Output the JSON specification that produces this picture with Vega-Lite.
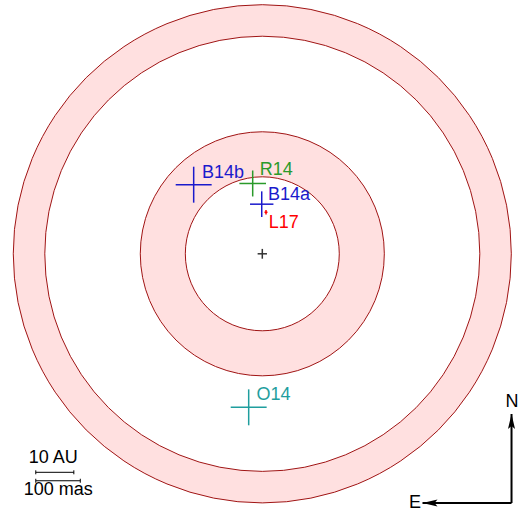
{
  "$schema": "https://vega.github.io/schema/vega-lite/v6.json",
  "description": "HD 169142 disk rings with candidate companion positions (offsets in mas).",
  "width": 521,
  "height": 512,
  "padding": 0,
  "autosize": {"type": "fit", "contains": "padding"},
  "config": {"view": {"stroke": null}},
  "datasets": {
    "rings": [
      {"ra": 0, "dec": 0, "r": 559.6, "zone": "ring"},
      {"ra": 0, "dec": 0, "r": 488.8, "zone": "gap"},
      {"ra": 0, "dec": 0, "r": 274.2, "zone": "ring"},
      {"ra": 0, "dec": 0, "r": 173.0, "zone": "gap"}
    ],
    "detections": [
      {"ref": "B14b", "ra": 154.2, "dec": 155.3, "ra_lo": 113.8, "ra_hi": 194.6, "dec_lo": 114.9, "dec_hi": 195.7},
      {"ref": "R14", "ra": 21.6, "dec": 158.0, "ra_lo": -8.3, "ra_hi": 51.5, "dec_lo": 128.8, "dec_hi": 187.2},
      {"ref": "B14a", "ra": 1.3, "dec": 111.5, "ra_lo": -25.0, "ra_hi": 27.6, "dec_lo": 82.7, "dec_hi": 140.3},
      {"ref": "L17", "ra": -8.3, "dec": 93.3, "ra_lo": -11.7, "ra_hi": -4.9, "dec_lo": 88.3, "dec_hi": 98.3},
      {"ref": "O14", "ra": 30.6, "dec": -345.0, "ra_lo": -9.8, "ra_hi": 71.0, "dec_lo": -385.4, "dec_hi": -304.6},
      {"ref": "star", "ra": 0, "dec": 0, "ra_lo": -10.5, "ra_hi": 10.5, "dec_lo": -11, "dec_hi": 11}
    ],
    "labels": [
      {"ref": "B14b", "ra": 135.5, "dec": 171.0},
      {"ref": "R14", "ra": 5.6, "dec": 177.1},
      {"ref": "B14a", "ra": -13.0, "dec": 120.9},
      {"ref": "L17", "ra": -14.4, "dec": 58.7},
      {"ref": "O14", "ra": 13.3, "dec": -328.5}
    ],
    "compass": [
      {"dir": "N", "ra0": -560, "dec0": -560, "ra1": -560, "dec1": -360},
      {"dir": "E", "ra0": -560, "dec0": -560, "ra1": -360, "dec1": -560}
    ],
    "scalebar": [
      {"name": "10 AU", "ra0": 509, "ra1": 423.5, "dec": -491},
      {"name": "100 mas", "ra0": 509, "ra1": 409, "dec": -510}
    ],
    "notes": [
      {"text": "10 AU", "ra": 469.7, "dec": -469.4},
      {"text": "100 mas", "ra": 458.4, "dec": -542.0},
      {"text": "N", "ra": -561.3, "dec": -343.6},
      {"text": "E", "ra": -343.1, "dec": -570.6}
    ]
  },
  "layer": [
    {
      "data": {"name": "rings"},
      "mark": {"type": "point", "shape": "circle", "filled": true, "opacity": 1, "stroke": "#a01414", "strokeWidth": 1},
      "encoding": {
        "x": {"field": "ra", "type": "quantitative", "axis": null, "scale": {"domain": [-581.3, 589.4], "reverse": true, "nice": false, "zero": false}},
        "y": {"field": "dec", "type": "quantitative", "axis": null, "scale": {"domain": [-580.2, 570.3], "nice": false, "zero": false}},
        "size": {"field": "r", "type": "quantitative", "legend": null, "scale": {"type": "pow", "exponent": 2, "domain": [0, 600], "range": [0, 285156]}},
        "fill": {"field": "zone", "type": "nominal", "legend": null, "scale": {"domain": ["ring", "gap"], "range": ["#ffe0e0", "#ffffff"]}}
      }
    },
    {
      "data": {"name": "detections"},
      "mark": {"type": "rule", "strokeWidth": 1.5},
      "encoding": {
        "x": {"field": "ra_lo", "type": "quantitative", "axis": null},
        "x2": {"field": "ra_hi"},
        "y": {"field": "dec", "type": "quantitative", "axis": null},
        "color": {"field": "ref", "type": "nominal", "legend": null, "scale": {"domain": ["B14a", "B14b", "R14", "L17", "O14", "star"], "range": ["#1a1acc", "#1a1acc", "#2a9a2a", "#ff0000", "#1f9e9e", "#333333"]}}
      }
    },
    {
      "data": {"name": "detections"},
      "mark": {"type": "rule", "strokeWidth": 1.5},
      "encoding": {
        "x": {"field": "ra", "type": "quantitative", "axis": null},
        "y": {"field": "dec_lo", "type": "quantitative", "axis": null},
        "y2": {"field": "dec_hi"},
        "color": {"field": "ref", "type": "nominal", "legend": null}
      }
    },
    {
      "data": {"name": "labels"},
      "mark": {"type": "text", "align": "left", "baseline": "alphabetic", "font": "Liberation Sans", "fontSize": 18},
      "encoding": {
        "x": {"field": "ra", "type": "quantitative", "axis": null},
        "y": {"field": "dec", "type": "quantitative", "axis": null},
        "text": {"field": "ref"},
        "color": {"field": "ref", "type": "nominal", "legend": null}
      }
    },
    {
      "data": {"name": "compass"},
      "mark": {"type": "rule", "color": "black", "strokeWidth": 2},
      "encoding": {
        "x": {"field": "ra0", "type": "quantitative", "axis": null},
        "y": {"field": "dec0", "type": "quantitative", "axis": null},
        "x2": {"field": "ra1"},
        "y2": {"field": "dec1"}
      }
    },
    {
      "data": {"name": "compass"},
      "transform": [{"filter": "datum.dir == 'N'"}],
      "mark": {"type": "point", "shape": "M0,0L0.47,2L0,1.6L-0.47,2Z", "size": 225, "filled": true, "opacity": 1, "color": "black"},
      "encoding": {
        "x": {"field": "ra1", "type": "quantitative", "axis": null},
        "y": {"field": "dec1", "type": "quantitative", "axis": null}
      }
    },
    {
      "data": {"name": "compass"},
      "transform": [{"filter": "datum.dir == 'E'"}],
      "mark": {"type": "point", "shape": "M0,0L2,-0.47L1.6,0L2,0.47Z", "size": 225, "filled": true, "opacity": 1, "color": "black"},
      "encoding": {
        "x": {"field": "ra1", "type": "quantitative", "axis": null},
        "y": {"field": "dec1", "type": "quantitative", "axis": null}
      }
    },
    {
      "data": {"name": "scalebar"},
      "mark": {"type": "rule", "color": "black", "strokeWidth": 1},
      "encoding": {
        "x": {"field": "ra0", "type": "quantitative", "axis": null},
        "x2": {"field": "ra1"},
        "y": {"field": "dec", "type": "quantitative", "axis": null}
      }
    },
    {
      "data": {"name": "scalebar"},
      "transform": [{"fold": ["ra0", "ra1"], "as": ["end", "ra_end"]}],
      "mark": {"type": "point", "shape": "M0,-1L0,1", "size": 16, "filled": false, "opacity": 1, "color": "black", "strokeWidth": 1},
      "encoding": {
        "x": {"field": "ra_end", "type": "quantitative", "axis": null},
        "y": {"field": "dec", "type": "quantitative", "axis": null}
      }
    },
    {
      "data": {"name": "notes"},
      "mark": {"type": "text", "align": "center", "baseline": "alphabetic", "font": "Liberation Sans", "fontSize": 18, "color": "black"},
      "encoding": {
        "x": {"field": "ra", "type": "quantitative", "axis": null},
        "y": {"field": "dec", "type": "quantitative", "axis": null},
        "text": {"field": "text"}
      }
    }
  ]
}
